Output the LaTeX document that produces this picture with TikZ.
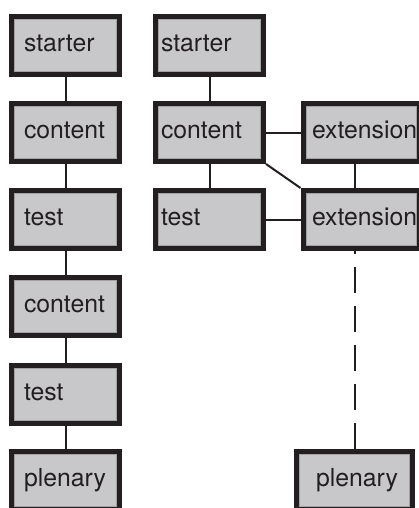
\documentclass[tikz,border=0pt]{standalone}
\usepackage{fontspec}
\newfontfamily\boxfont{TeX Gyre Heros}
\definecolor{dk}{HTML}{231F20}
\definecolor{bf}{HTML}{C8C8CA}
\definecolor{inl}{HTML}{A2A2A4}
\tikzset{
  box/.style={rectangle, draw=dk, line width=5pt, fill=bf, minimum height=58pt,
    inner ysep=0pt, text height=18pt, text depth=5.2pt, align=left, text=dk,
    font={\boxfont\fontsize{24.8}{28}\selectfont},
    path picture={\draw[line width=1pt, draw=inl]
      ([shift={(3pt,-3pt)}]path picture bounding box.north west) rectangle
      ([shift={(-3pt,3pt)}]path picture bounding box.south east);}},
  lcol/.style={minimum width=108pt, inner xsep=12.5pt, text width=83pt},
  rcol/.style={minimum width=108pt, inner xsep=5.5pt, text width=97pt},
  ecol/.style={minimum width=116pt, inner xsep=9pt, text width=98pt},
  pcol/.style={minimum width=116pt, inner xsep=19.5pt, text width=77pt},
  link/.style={draw=dk, line width=2pt},
  dlink/.style={link, dash pattern=on 26pt off 13pt},
}
\begin{document}
\begin{tikzpicture}[x=1pt, y=-1pt]
\clip (0,0) rectangle (419,508);
\fill[white] (0,0) rectangle (419,508);
% left column
\node[box, lcol] (l1) at (65.5,45.5) {starter};
\node[box, lcol] (l2) at (65.5,132.5) {content};
\node[box, lcol] (l3) at (65.5,219.5) {test};
\node[box, lcol] (l4) at (65.5,306.5) {content};
\node[box, lcol] (l5) at (65.5,394.5) {test};
\node[box, lcol] (l6) at (65.5,480.5) {plenary};
% right column
\node[box, rcol] (r1) at (209.5,45.5) {starter};
\node[box, rcol] (r2) at (209.5,132.5) {content};
\node[box, rcol] (r3) at (209.5,219.5) {test};
\node[box, ecol] (e1) at (361,132.5) {extension};
\node[box, ecol] (e2) at (361,219.5) {extension};
\node[box, pcol] (p) at (354.5,480.5) {plenary};
% connectors
\draw[link] (l1) -- (l2);
\draw[link] (l2) -- (l3);
\draw[link] (l3) -- (l4);
\draw[link] (l4) -- (l5);
\draw[link] (l5) -- (l6);
\draw[link] (r1) -- (r2);
\draw[link] (r2) -- (r3);
\draw[link] (r2) -- (e1);
\draw[link] (r3) -- (e2);
\draw[link] (r2.south east) -- (e2.north west);
\draw[link] (e1.south -| p.north) -- (e2.north -| p.north);
\draw[dlink] (p.north) -- (e2.south -| p.north);
\end{tikzpicture}
\end{document}
